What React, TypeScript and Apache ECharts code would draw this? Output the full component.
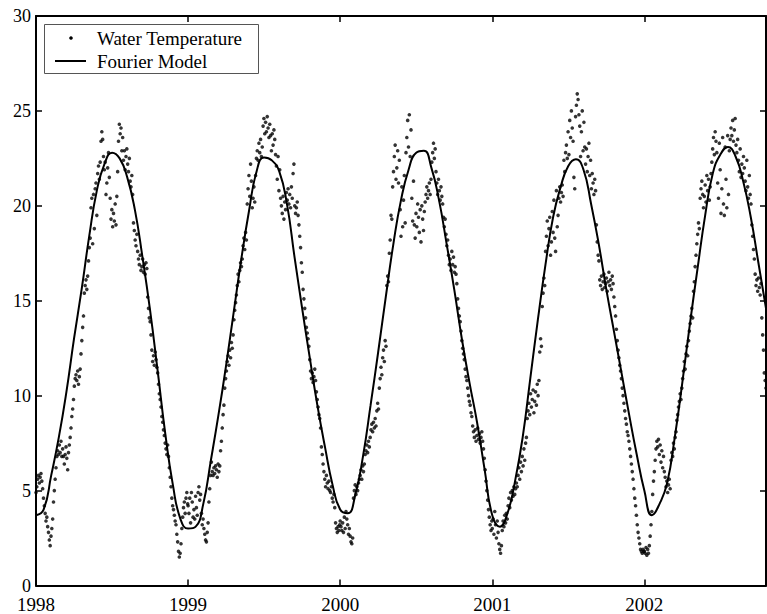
import React, { useEffect, useRef } from 'react';
import * as echarts from 'echarts';

// Daily water temperature (°C), one reading every SAMPLE_STEP_DAYS days from 1 January of each year
const SAMPLE_STEP_DAYS = 2;
const DAYS_PER_YEAR = 365;
const FIRST_YEAR = 1998;
const X_MAX = 2002.8;

const temp1998 = [
  4.9, 5.2, 5.6, 5.8, 5.4, 5.7, 5.9, 5.5, 5.1, 4.6, 4.2, 3.8, 3.4, 3.6, 3.1, 2.8,
  2.4, 2.1, 2.6, 3.0, 3.5, 4.4, 5.0, 5.6, 6.2, 6.8, 7.1, 6.9, 7.4, 7.0, 7.6, 6.8,
  7.2, 6.8, 6.4, 6.9, 7.3, 6.7, 6.1, 7.0, 7.4, 7.8, 8.3, 8.9, 9.3, 9.8, 10.5, 10.9,
  11.1, 10.8, 11.3, 10.6, 11.0, 11.4, 12.2, 12.9, 13.6, 14.2, 15.4, 15.8, 16.1, 15.6, 16.3, 17.1,
  17.8, 18.3, 19.9, 20.4, 18.0, 20.6, 18.8, 20.9, 21.2, 19.5, 21.7, 22.1, 21.4, 22.3, 23.4, 23.9,
  23.5, 22.6, 21.9, 22.3, 20.6, 21.2, 22.0, 22.8, 21.5, 20.4, 19.3, 19.8, 18.9, 19.6, 19.2, 20.1,
  19.0, 20.5, 21.8, 23.4, 24.3, 23.8, 24.1, 22.9, 23.6, 22.4, 22.9, 21.9, 22.6, 23.0, 22.2, 21.8,
  22.5, 21.3, 21.0, 21.6, 20.6, 19.1, 18.7, 18.2, 17.9, 18.5, 17.6, 17.2, 16.9, 17.4, 16.6, 16.8,
  17.2, 16.5, 16.9, 16.4, 17.0, 16.7, 15.2, 14.6, 14.1, 13.9, 13.2, 12.4, 11.8, 12.1, 11.6, 12.3,
  11.9, 11.5, 11.2, 10.6, 10.1, 9.8, 9.4, 8.9, 8.6, 8.2, 7.9, 7.5, 7.2, 6.9, 7.4, 6.8,
  6.2, 5.7, 5.2, 4.6, 4.2, 4.0, 3.7, 3.4, 3.2, 2.7, 2.3, 1.8, 1.5, 1.7, 2.2, 3.0,
  3.6, 4.1, 4.4, 3.8, 4.6, 4.9, 4.3,
];

const temp1999 = [
  4.2, 3.8, 4.6, 3.3, 4.9, 4.4, 3.6, 4.0, 3.5, 4.7, 4.1, 3.7, 4.9, 5.2, 4.5, 4.8,
  3.8, 3.2, 3.5, 3.0, 2.7, 2.4, 2.3, 2.8, 3.3, 4.4, 5.1, 5.8, 6.5, 6.0, 5.8, 6.2,
  5.9, 6.3, 6.1, 5.7, 6.4, 6.0, 6.3, 7.1, 7.6, 8.3, 9.0, 9.5, 10.4, 10.9, 11.3, 11.8,
  12.1, 11.6, 12.4, 12.0, 12.8, 12.5, 13.2, 14.0, 14.5, 14.9, 15.3, 15.8, 16.4, 16.0, 16.6, 17.0,
  16.8, 17.2, 17.9, 18.3, 17.7, 18.6, 18.2, 20.1, 20.9, 21.6, 20.5, 22.2, 21.3, 19.9, 20.4, 21.0,
  20.2, 21.6, 22.5, 22.9, 22.4, 23.3, 22.8, 23.5, 22.6, 23.1, 24.2, 24.6, 23.8, 24.4, 23.9, 24.7,
  24.1, 23.6, 24.3, 23.7, 22.9, 23.8, 23.2, 24.0, 23.5, 22.7, 22.1, 21.4, 22.6, 20.8, 21.9, 20.4,
  20.0, 19.6, 20.5, 19.3, 20.2, 19.8, 20.7, 20.3, 20.9, 20.1, 20.6, 19.9, 21.0, 20.4, 21.7, 22.2,
  20.0, 19.6, 19.9, 20.2, 19.5, 19.0, 18.4, 17.8, 17.0, 16.5, 15.6, 15.1, 14.6, 14.1, 13.6, 13.3,
  13.0, 12.6, 11.9, 11.3, 10.9, 11.2, 10.7, 11.0, 11.4, 10.8, 10.2, 9.8, 9.4, 9.0, 8.8, 8.3,
  7.3, 6.9, 6.4, 6.0, 5.6, 5.2, 5.8, 5.4, 5.1, 5.5, 5.0, 4.9, 5.2, 4.6, 4.4, 4.8,
  4.1, 3.3, 3.0, 2.8, 3.1, 2.9, 3.2,
];

const temp2000 = [
  3.4, 3.1, 2.9, 3.3, 2.8, 3.6, 3.0, 3.9, 3.5, 3.2, 2.7, 3.0, 2.6, 2.3, 2.2, 2.5,
  4.6, 5.0, 5.3, 4.8, 5.2, 5.0, 5.4, 5.6, 5.8, 6.1, 5.6, 6.3, 6.0, 6.4, 6.9, 7.1,
  7.4, 7.0, 7.6, 7.3, 7.8, 8.2, 8.5, 8.1, 8.6, 8.3, 8.8, 8.4, 9.2, 9.6, 9.3, 10.4,
  10.9, 11.5, 11.1, 12.0, 12.4, 11.8, 12.9, 12.6, 15.8, 16.3, 16.0, 17.5, 18.2, 19.5, 19.3, 21.0,
  21.8, 22.6, 23.2, 21.4, 22.0, 22.9, 21.2, 22.4, 19.8, 18.4, 21.0, 18.9, 20.3, 21.6, 19.1, 22.8,
  23.6, 24.5, 23.1, 24.8, 22.6, 24.0, 20.4, 19.2, 21.3, 19.0, 18.3, 19.6, 18.9, 20.1, 19.4, 18.6,
  19.8, 18.1, 20.0, 19.3, 18.7, 19.7, 20.2, 20.6, 21.0, 20.4, 20.8, 21.2, 20.6, 21.4, 22.3, 22.8,
  23.3, 22.5, 23.0, 21.8, 21.2, 20.6, 21.4, 20.8, 20.3, 21.0, 20.5, 20.1, 19.4, 18.9, 19.3, 18.5,
  17.9, 18.2, 17.4, 16.9, 17.2, 16.6, 17.6, 16.9, 17.3, 16.5, 16.8, 16.4, 15.9, 15.1, 14.6, 14.2,
  13.9, 13.4, 12.9, 12.5, 12.2, 11.9, 11.4, 11.0, 10.8, 10.4, 10.0, 9.7, 9.5, 9.1, 8.9, 8.4,
  8.1, 7.8, 8.2, 7.6, 7.9, 8.3, 7.7, 8.0, 7.5, 7.8, 8.1, 7.6, 7.2, 6.7, 6.1, 5.5,
  5.0, 4.5, 4.0, 3.6, 3.2, 2.9, 3.4,
];

const temp2001 = [
  3.0, 3.5, 2.7, 3.9, 3.2, 2.5, 3.4, 2.8, 2.2, 1.9, 1.7, 2.1, 2.9, 3.4, 3.1, 3.7,
  3.3, 3.8, 3.5, 4.2, 4.6, 4.1, 4.9, 4.5, 5.0, 4.7, 5.2, 4.8, 5.1, 5.4, 5.2, 5.8,
  6.2, 5.6, 6.5, 6.0, 6.8, 6.3, 7.2, 6.6, 7.5, 7.8, 8.8, 9.2, 9.6, 9.0, 10.1, 9.4,
  9.8, 10.3, 9.1, 9.7, 10.2, 9.5, 10.6, 10.0, 10.8, 12.3, 13.0, 12.6, 14.7, 15.4, 16.2, 15.8,
  17.6, 18.4, 19.2, 17.9, 18.8, 19.4, 17.4, 18.1, 19.7, 18.6, 20.3, 18.3, 17.6, 20.8, 18.9, 19.5,
  20.4, 21.0, 20.2, 20.7, 21.1, 20.5, 22.4, 21.8, 22.8, 23.2, 22.5, 23.9, 22.7, 24.5, 23.6, 25.0,
  24.1, 23.4, 21.5, 20.9, 24.7, 25.3, 25.9, 25.6, 24.8, 24.2, 22.6, 23.9, 25.0, 22.9, 24.4, 23.1,
  22.2, 23.0, 21.8, 22.6, 23.3, 21.6, 22.4, 20.9, 21.7, 21.2, 20.6, 21.4, 20.8, 19.0, 18.1, 17.4,
  17.1, 16.1, 15.8, 16.3, 15.6, 16.0, 16.4, 15.7, 15.9, 16.2, 15.5, 16.0, 16.5, 15.8, 16.1, 15.6,
  16.3, 15.9, 15.2, 14.7, 14.2, 13.5, 12.9, 12.4, 12.0, 11.6, 11.3, 10.9, 10.4, 10.0, 9.6, 9.2,
  8.8, 8.5, 8.1, 7.9, 7.6, 7.2, 6.8, 6.4, 6.0, 5.6, 5.1, 4.6, 4.2, 3.7, 3.2, 2.8,
  2.5, 2.2, 1.9, 1.8, 1.7, 1.9, 1.8,
];

const temp2002 = [
  1.8, 1.7, 2.0, 1.6, 1.9, 1.7, 2.1, 2.6, 3.2, 3.9, 4.8, 5.5, 6.0, 6.6, 7.2, 7.6,
  7.3, 7.7, 6.9, 7.4, 6.5, 7.1, 6.2, 6.8, 6.0, 5.7, 5.2, 5.5, 4.9, 5.3, 5.6, 5.1,
  6.6, 7.0, 6.8, 7.5, 7.2, 7.8, 8.1, 8.7, 9.0, 9.4, 9.7, 10.1, 9.8, 10.4, 10.9, 11.3,
  11.8, 11.4, 12.2, 12.6, 12.1, 12.9, 13.4, 13.8, 14.2, 14.6, 14.1, 15.5, 16.0, 16.8, 17.4, 18.0,
  18.5, 19.1, 18.8, 20.4, 20.9, 21.3, 20.6, 19.9, 20.5, 21.1, 20.2, 21.6, 20.8, 21.4, 20.3, 21.0,
  21.7, 22.3, 23.0, 23.6, 22.7, 23.9, 23.4, 22.8, 21.2, 20.4, 23.3, 21.9, 19.6, 20.9, 23.6, 20.1,
  19.5, 23.1, 21.4, 19.9, 23.7, 20.6, 22.9, 23.5, 24.1, 23.7, 24.5, 23.4, 24.0, 24.6, 23.2, 22.8,
  23.5, 22.4, 21.8, 23.0, 21.5, 22.2, 21.7, 22.6, 22.0, 21.3, 20.8, 22.4, 21.0, 20.4, 21.6, 20.6,
  20.1, 19.0, 18.4, 17.7, 17.2, 16.4, 15.8, 16.1, 15.5, 16.2, 15.7, 15.3, 15.9, 14.1, 13.2, 12.4,
  11.2, 10.8, 10.4,
];

const yearlyTemps = [temp1998, temp1999, temp2000, temp2001, temp2002];

// Fitted Fourier model, sampled every MODEL_STEP_YEARS from 1998.0
const MODEL_STEP_YEARS = 0.05;
const fourierModel = [
  3.7, 4.0, 5.8, 7.8, 10.2, 13.0, 15.6, 18.4, 20.8, 22.2,
  22.8, 22.5, 21.5, 19.8, 17.3, 14.5, 11.3, 8.0, 5.3, 3.5,
  3.0, 3.1, 4.3, 6.6, 9.0, 11.6, 14.4, 17.2, 19.7, 21.8,
  22.55, 22.4, 21.8, 20.1, 17.3, 14.6, 12.0, 9.5, 7.3, 5.3,
  4.0, 3.8, 4.8, 6.8, 9.5, 12.3, 15.2, 18.0, 20.3, 21.9,
  22.8, 22.9, 22.0, 20.3, 18.0, 15.6, 13.0, 10.7, 8.6, 6.1,
  3.7, 3.1, 3.8, 5.5, 7.8, 10.9, 14.0, 16.9, 19.4, 21.0,
  22.1, 22.45, 21.9, 20.1, 18.0, 15.6, 13.4, 11.2, 9.0, 6.9,
  5.0, 3.7, 4.3, 5.4, 7.8, 10.7, 13.8, 16.7, 19.5, 21.7,
  22.7, 23.1, 22.6, 21.3, 19.4, 17.0, 14.6,
];

const SERIES_NAMES = ['Water Temperature', 'Fourier Model'];

const FONT = '"Liberation Serif", "Times New Roman", serif';

export default function App() {
  const ref = useRef<HTMLDivElement>(null);

  useEffect(() => {
    if (!ref.current) return;
    const chart = echarts.init(ref.current, undefined, { renderer: 'svg' });

    const waterPoints: number[][] = [];
    yearlyTemps.forEach((vals, k) => {
      vals.forEach((v, i) => {
        waterPoints.push([FIRST_YEAR + k + (i * SAMPLE_STEP_DAYS) / DAYS_PER_YEAR, v]);
      });
    });
    const modelPoints = fourierModel.map((v, i) => [FIRST_YEAR + i * MODEL_STEP_YEARS, v]);

    const frameLine = { show: true, onZero: false, lineStyle: { color: '#000', width: 2 } };
    const innerTick = { show: true, inside: true, length: 6, lineStyle: { color: '#000', width: 1.5 } };

    chart.setOption({
      animation: false,
      backgroundColor: '#fff',
      grid: { left: 36, right: 1, top: 16, bottom: 25 },
      xAxis: [
        {
          type: 'value', min: FIRST_YEAR, max: X_MAX, interval: 1, position: 'bottom',
          axisLine: frameLine, axisTick: innerTick, splitLine: { show: false },
          axisLabel: {
            fontFamily: FONT, fontSize: 19, lineHeight: 14, color: '#000',
            margin: 12, showMaxLabel: false,
            formatter: (v: number) => (Number.isInteger(v) ? String(v) : ''),
          },
        },
        {
          type: 'value', min: FIRST_YEAR, max: X_MAX, interval: 1, position: 'top',
          axisLine: frameLine, axisTick: innerTick, splitLine: { show: false },
          axisLabel: { show: false },
        },
      ],
      yAxis: [
        {
          type: 'value', min: 0, max: 30, interval: 5, position: 'left',
          axisLine: frameLine, axisTick: innerTick, splitLine: { show: false },
          axisLabel: { fontFamily: FONT, fontSize: 18, lineHeight: 13, color: '#000', margin: 5 },
        },
        {
          type: 'value', min: 0, max: 30, interval: 5, position: 'right',
          axisLine: frameLine, axisTick: innerTick, splitLine: { show: false },
          axisLabel: { show: false },
        },
      ],
      series: [
        {
          name: SERIES_NAMES[0], type: 'scatter', data: waterPoints,
          symbol: 'circle', symbolSize: 3.6, itemStyle: { color: '#000' },
        },
        {
          name: SERIES_NAMES[1], type: 'line', data: modelPoints,
          smooth: 0.5, symbol: 'none', showSymbol: false,
          lineStyle: { color: '#000', width: 2 },
        },
      ],
      graphic: [
        {
          type: 'group', z: 100,
          children: [
            {
              type: 'rect', shape: { x: 44.5, y: 24.5, width: 214, height: 49 },
              style: { fill: '#fff', stroke: '#555', lineWidth: 1 },
            },
            { type: 'circle', shape: { cx: 71, cy: 38, r: 1.8 }, style: { fill: '#000' } },
            {
              type: 'line', shape: { x1: 55, y1: 61, x2: 86, y2: 61 },
              style: { stroke: '#000', lineWidth: 2 },
            },
            {
              type: 'text', x: 97, y: 38,
              style: { text: SERIES_NAMES[0], fontFamily: FONT, fontSize: 19, fill: '#000', verticalAlign: 'middle' },
            },
            {
              type: 'text', x: 97, y: 61,
              style: { text: SERIES_NAMES[1], fontFamily: FONT, fontSize: 19, fill: '#000', verticalAlign: 'middle' },
            },
          ],
        },
      ],
    });

    return () => chart.dispose();
  }, []);

  return (
    <div
      ref={ref}
      style={{ position: 'fixed', left: 0, top: 0, width: 767, height: 614, background: '#fff' }}
    />
  );
}
